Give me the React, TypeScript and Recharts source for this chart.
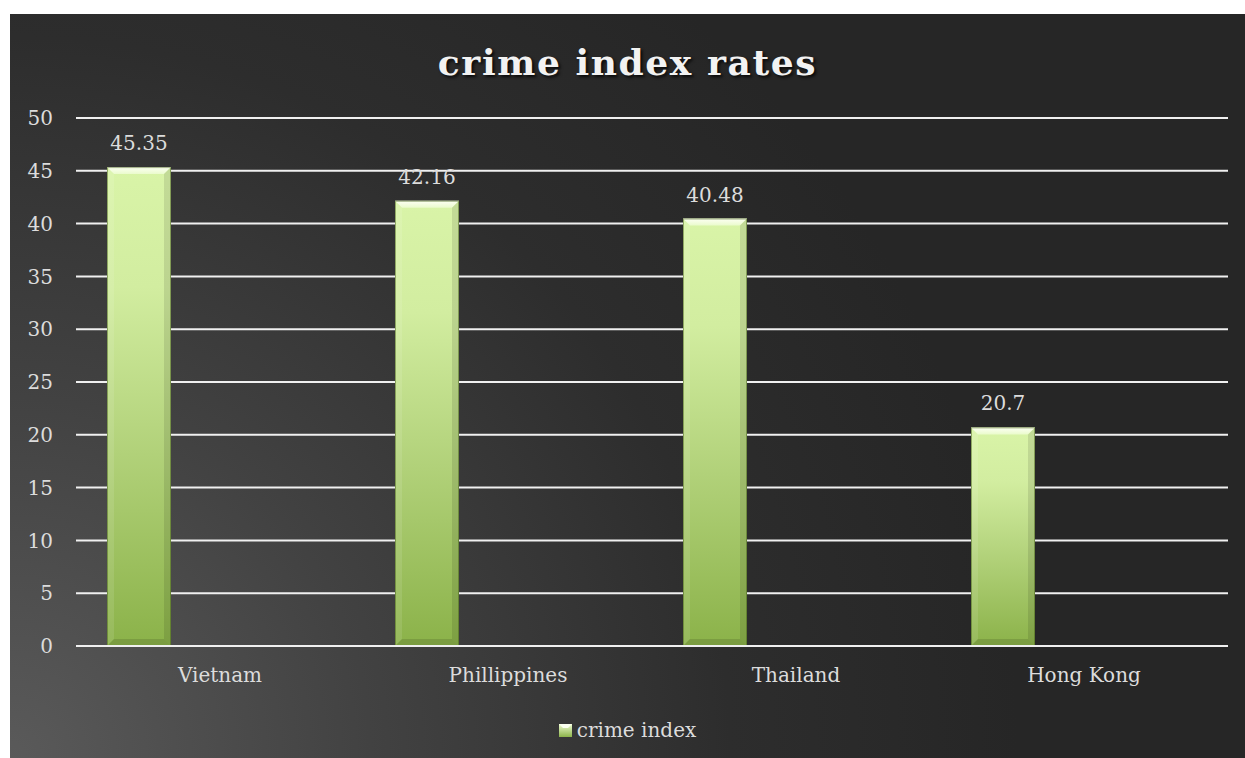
import React from "react";
import {
  BarChart,
  Bar,
  XAxis,
  YAxis,
  CartesianGrid,
  LabelList,
} from "recharts";

// values
const countries = ["Vietnam", "Phillippines", "Thailand", "Hong Kong"];
const crimeIndex = [45.35, 42.16, 40.48, 20.7];
// Excel had an empty second series next to each bar, which pushes the bars left
const emptySeries = [null, null, null, null];
const yTicks = [0, 5, 10, 15, 20, 25, 30, 35, 40, 45, 50];

const chartData = countries.map((name, i) => ({
  name,
  value: crimeIndex[i],
  spacer: emptySeries[i],
}));

const FONT = "'DejaVu Serif', serif";
const TEXT = "#dcdcdc";

// bar with an Excel-like bevel
const BevelBar = (props: any) => {
  const { x, y, width: w, height: h } = props;
  if (!h || h <= 0) return null;
  const b = 7;
  return (
    <g>
      <rect x={x} y={y} width={w} height={h} fill="url(#barGrad)" />
      <polygon
        points={`${x},${y} ${x + w},${y} ${x + w - b},${y + b} ${x + b},${y + b}`}
        fill="url(#topBevel)"
      />
      <polygon
        points={`${x},${y} ${x + b},${y + b} ${x + b},${y + h - b} ${x},${y + h}`}
        fill="rgba(255,255,255,0.1)"
      />
      <polygon
        points={`${x + w},${y} ${x + w - b},${y + b} ${x + w - b},${y + h - b} ${x + w},${y + h}`}
        fill="rgba(0,0,0,0.1)"
      />
      <polygon
        points={`${x},${y + h} ${x + b},${y + h - b} ${x + w - b},${y + h - b} ${x + w},${y + h}`}
        fill="rgba(0,0,0,0.12)"
      />
      <rect
        x={x + 0.5}
        y={y + 0.5}
        width={w - 1}
        height={h - 1}
        fill="none"
        stroke="rgba(70,95,25,0.5)"
        strokeWidth={1}
      />
    </g>
  );
};

export default function App() {
  return (
    <div
      style={{
        position: "absolute",
        left: 10,
        top: 14,
        width: 1235,
        height: 744,
        background:
          "radial-gradient(circle farthest-corner at 0% 100%, #5a5a5a 0%, #424242 25%, #2d2d2d 50%, #262626 70%, #262626 100%)",
        overflow: "hidden",
      }}
    >
      {/* title */}
      <div
        style={{
          position: "absolute",
          left: 0,
          width: 1235,
          top: 27,
          textAlign: "center",
          fontFamily: FONT,
          fontWeight: "bold",
          fontSize: 36,
          letterSpacing: 1.6,
          color: "#f2f2f2",
          textShadow: "2px 2px 3px rgba(0,0,0,0.8)",
        }}
      >
        crime index rates
      </div>

      <BarChart
        width={1235}
        height={744}
        data={chartData}
        margin={{ top: 104, right: 17, bottom: 0, left: 0 }}
        barGap={98}
      >
        <defs>
          <linearGradient id="barGrad" x1="0" y1="0" x2="0" y2="1">
            <stop offset="0%" stopColor="#d9f4a8" />
            <stop offset="25%" stopColor="#d2eda0" />
            <stop offset="60%" stopColor="#b1d179" />
            <stop offset="100%" stopColor="#8bb249" />
          </linearGradient>
          <linearGradient id="topBevel" x1="0" y1="0" x2="0" y2="1">
            <stop offset="0%" stopColor="#fdfff4" />
            <stop offset="100%" stopColor="#eafbcc" />
          </linearGradient>
        </defs>
        <CartesianGrid
          horizontal
          vertical={false}
          stroke="#f0f0f0"
          strokeWidth={2}
        />
        <XAxis
          dataKey="name"
          height={112}
          tickSize={0}
          tickMargin={22}
          axisLine={{ stroke: "#f0f0f0", strokeWidth: 2 }}
          tickLine={false}
          tick={{ fill: TEXT, fontSize: 20, fontFamily: FONT }}
        />
        <YAxis
          width={66}
          domain={[0, 50]}
          ticks={yTicks}
          tickSize={0}
          tickMargin={23}
          axisLine={false}
          tickLine={false}
          tick={{ fill: TEXT, fontSize: 20, fontFamily: FONT }}
        />
        <Bar
          dataKey="value"
          barSize={64}
          shape={<BevelBar />}
          isAnimationActive={false}
        >
          <LabelList
            dataKey="value"
            position="top"
            offset={17}
            fill={TEXT}
            fontSize={20}
            fontFamily={FONT}
          />
        </Bar>
        <Bar
          dataKey="spacer"
          barSize={64}
          legendType="none"
          isAnimationActive={false}
        />
      </BarChart>

      {/* legend */}
      <div
        style={{
          position: "absolute",
          left: 0,
          width: 1235,
          top: 704,
          display: "flex",
          justifyContent: "center",
          alignItems: "center",
          fontFamily: FONT,
          fontSize: 20,
          color: TEXT,
        }}
      >
        <svg width={13} height={13} style={{ marginRight: 5 }}>
          <defs>
            <linearGradient id="legGrad" x1="0" y1="0" x2="0" y2="1">
              <stop offset="0%" stopColor="#eefcd0" />
              <stop offset="100%" stopColor="#8cb34a" />
            </linearGradient>
          </defs>
          <rect x={0} y={0} width={13} height={13} fill="url(#legGrad)" />
          <polygon points="0,0 13,0 9,4 4,4" fill="#fbfff0" />
        </svg>
        <span>crime index</span>
      </div>
    </div>
  );
}
